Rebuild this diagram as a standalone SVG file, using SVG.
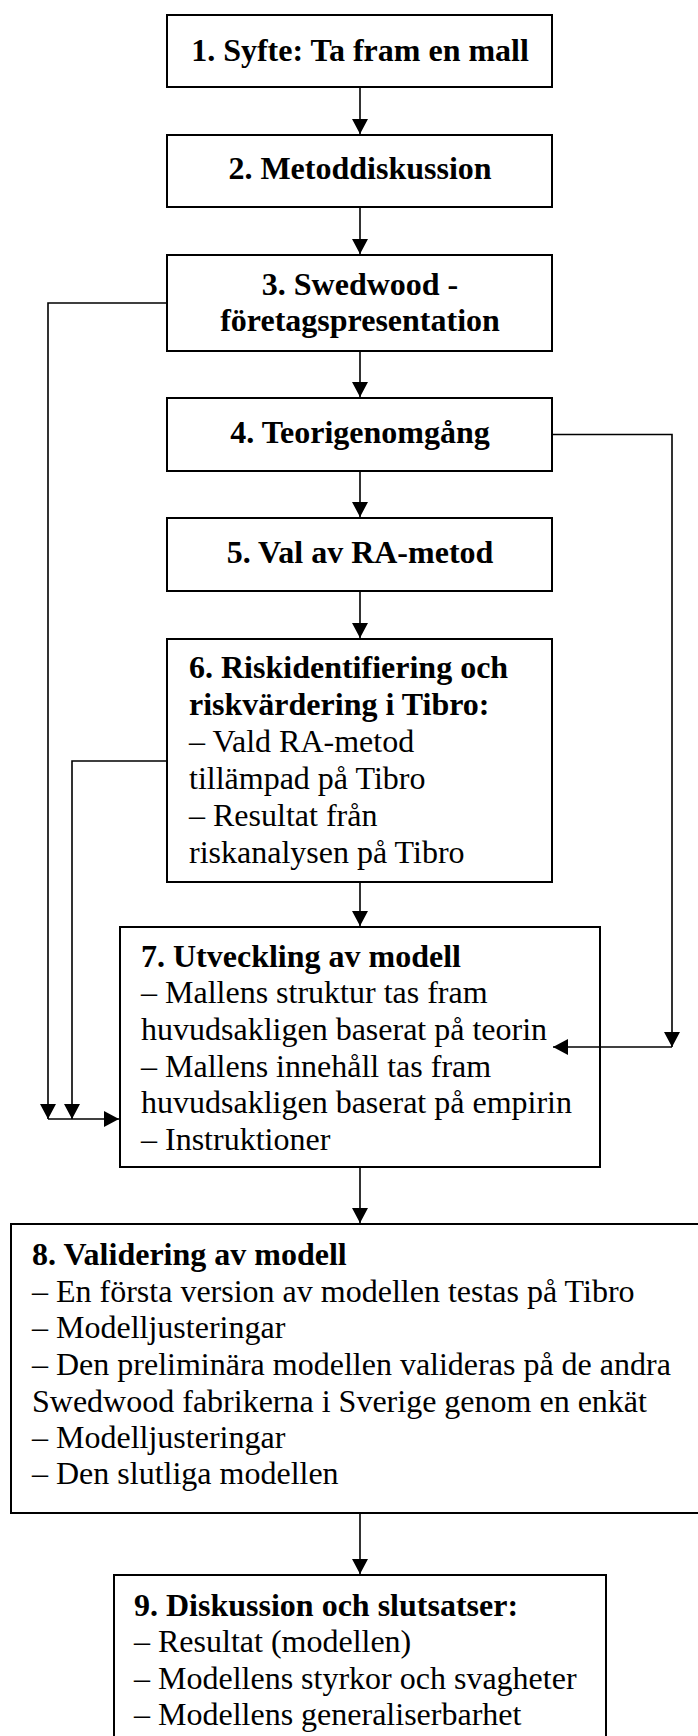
<svg xmlns="http://www.w3.org/2000/svg" width="698" height="1736" viewBox="0 0 698 1736">
  <style>
    .box { fill: #fff; stroke: #000; stroke-width: 2; }
    .ln { fill: none; stroke: #000; stroke-width: 1.6; }
    text { font-family: "Liberation Serif", "Times New Roman", serif; font-size: 32px; fill: #000; }
    .b { font-weight: bold; }
    .c { text-anchor: middle; }
  </style>
  <defs>
    <marker id="arrow" markerUnits="userSpaceOnUse" markerWidth="16" markerHeight="16" refX="15" refY="8" orient="auto">
      <path d="M0,0 L15,8 L0,16 z" fill="#000"/>
    </marker>
  </defs>
  <rect width="698" height="1736" fill="#fff"/>

  <g id="n1">
    <rect class="box" x="167" y="15" width="385" height="72"/>
    <text class="b c" x="360" y="61">1. Syfte: Ta fram en mall</text>
  </g>
  <g id="n2">
    <rect class="box" x="167" y="135" width="385" height="72"/>
    <text class="b c" x="360" y="179">2. Metoddiskussion</text>
  </g>
  <g id="n3">
    <rect class="box" x="167" y="255" width="385" height="96"/>
    <text class="b c" x="360" y="295">3. Swedwood -</text>
    <text class="b c" x="360" y="331">företagspresentation</text>
  </g>
  <g id="n4">
    <rect class="box" x="167" y="398" width="385" height="73"/>
    <text class="b c" x="360" y="443">4. Teorigenomgång</text>
  </g>
  <g id="n5">
    <rect class="box" x="167" y="518" width="385" height="73"/>
    <text class="b c" x="360" y="563">5. Val av RA-metod</text>
  </g>
  <g id="n6">
    <rect class="box" x="167" y="639" width="385" height="243"/>
    <text class="b" x="189" y="678">6. Riskidentifiering och</text>
    <text class="b" x="189" y="715">riskvärdering i Tibro:</text>
    <text x="189" y="752">– Vald RA-metod</text>
    <text x="189" y="789">tillämpad på Tibro</text>
    <text x="189" y="826">– Resultat från</text>
    <text x="189" y="863">riskanalysen på Tibro</text>
  </g>
  <g id="n7">
    <rect class="box" x="120" y="927" width="480" height="240"/>
    <text class="b" x="141" y="967">7. Utveckling av modell</text>
    <text x="141" y="1003">– Mallens struktur tas fram</text>
    <text x="141" y="1040">huvudsakligen baserat på teorin</text>
    <text x="141" y="1077">– Mallens innehåll tas fram</text>
    <text x="141" y="1113">huvudsakligen baserat på empirin</text>
    <text x="141" y="1150">– Instruktioner</text>
  </g>
  <g id="n8">
    <rect class="box" x="11" y="1224" width="720" height="289"/>
    <text class="b" x="32" y="1265">8. Validering av modell</text>
    <text x="32" y="1302">– En första version av modellen testas på Tibro</text>
    <text x="32" y="1338">– Modelljusteringar</text>
    <text x="32" y="1375">– Den preliminära modellen valideras på de andra</text>
    <text x="32" y="1412">Swedwood fabrikerna i Sverige genom en enkät</text>
    <text x="32" y="1448">– Modelljusteringar</text>
    <text x="32" y="1484">– Den slutliga modellen</text>
  </g>
  <g id="n9">
    <rect class="box" x="114" y="1575" width="492" height="200"/>
    <text class="b" x="134" y="1616">9. Diskussion och slutsatser:</text>
    <text x="134" y="1652">– Resultat (modellen)</text>
    <text x="134" y="1689">– Modellens styrkor och svagheter</text>
    <text x="134" y="1725">– Modellens generaliserbarhet</text>
  </g>

  <!-- connectors, drawn over the boxes so the theory arrow can cross into box 7 -->
  <g id="connectors">
    <line class="ln" x1="360" y1="87" x2="360" y2="134" marker-end="url(#arrow)"/>
    <line class="ln" x1="360" y1="207" x2="360" y2="254" marker-end="url(#arrow)"/>
    <line class="ln" x1="360" y1="351" x2="360" y2="397" marker-end="url(#arrow)"/>
    <line class="ln" x1="360" y1="471" x2="360" y2="517" marker-end="url(#arrow)"/>
    <line class="ln" x1="360" y1="591" x2="360" y2="638" marker-end="url(#arrow)"/>
    <line class="ln" x1="360" y1="882" x2="360" y2="926" marker-end="url(#arrow)"/>
    <line class="ln" x1="360" y1="1167" x2="360" y2="1223" marker-end="url(#arrow)"/>
    <line class="ln" x1="360" y1="1513" x2="360" y2="1574" marker-end="url(#arrow)"/>
    <!-- feedback from 3 and 6 into 7 -->
    <polyline class="ln" points="167,303 48,303 48,1119" marker-end="url(#arrow)"/>
    <polyline class="ln" points="167,761 72,761 72,1119" marker-end="url(#arrow)"/>
    <line class="ln" x1="48" y1="1119" x2="119" y2="1119" marker-end="url(#arrow)"/>
    <!-- theory branch from 4 into 7 -->
    <polyline class="ln" points="552,434.5 672,434.5 672,1047" marker-end="url(#arrow)"/>
    <line class="ln" x1="672" y1="1047" x2="553" y2="1047" marker-end="url(#arrow)"/>
  </g>
</svg>
